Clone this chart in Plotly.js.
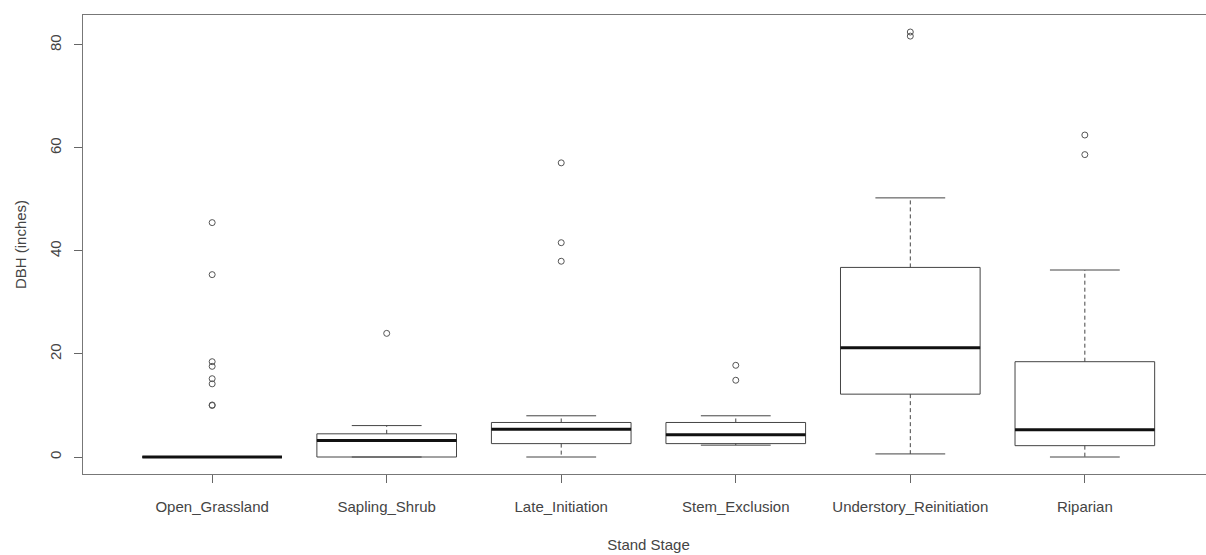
<!DOCTYPE html>
<html>
<head>
<meta charset="utf-8">
<script src="https://cdn.plot.ly/plotly-3.0.1.min.js"></script>
<style>
html, body { margin: 0; padding: 0; overflow: hidden; background: #ffffff; }
#chart { width: 1230px; height: 555px; }
</style>
</head>
<body>
<div id="chart"></div>
<script>
// ---- data ----
const categories = ["Open_Grassland", "Sapling_Shrub", "Late_Initiation", "Stem_Exclusion", "Understory_Reinitiation", "Riparian"];
const lowerWhisker = [0, 0, 0, 2.3, 0.6, 0];
const q1 = [0, 0, 2.6, 2.6, 12.2, 2.2];
const median = [0, 3.2, 5.4, 4.3, 21.2, 5.3];
const q3 = [0, 4.5, 6.7, 6.7, 36.8, 18.5];
const upperWhisker = [0, 6.1, 8.0, 8.0, 50.3, 36.3];
const outliersOpenGrassland = [45.5, 35.4, 18.5, 17.6, 15.2, 14.2, 10.1, 10.0];
const outliersSaplingShrub = [24.0];
const outliersLateInitiation = [57.1, 41.6, 38.0];
const outliersStemExclusion = [17.8, 14.9];
const outliersUnderstory = [82.5, 81.7];
const outliersRiparian = [62.5, 58.7];
const yTicks = [0, 20, 40, 60, 80];

// ---- build traces ----
const outlierGroups = [outliersOpenGrassland, outliersSaplingShrub, outliersLateInitiation,
                       outliersStemExclusion, outliersUnderstory, outliersRiparian];
const pos = categories.map((c, i) => i + 1);
const boxWidth = 0.8;
const capHalf = boxWidth / 4;
const medHalf = boxWidth / 2;

const boxTrace = {
  type: 'box',
  x: pos,
  q1: q1,
  median: median,
  q3: q3,
  lowerfence: q1,
  upperfence: q3,
  width: boxWidth,
  whiskerwidth: 0,
  boxpoints: false,
  fillcolor: '#ffffff',
  line: { color: '#444444', width: 1 },
  hoverinfo: 'skip'
};

const wx = [], wy = [];
pos.forEach((p, i) => {
  wx.push(p, p, null, p, p, null);
  wy.push(q3[i], upperWhisker[i], null, q1[i], lowerWhisker[i], null);
});
const whiskerTrace = {
  type: 'scatter', mode: 'lines', x: wx, y: wy,
  line: { color: '#444444', width: 1, dash: '4px,3px' }, hoverinfo: 'skip'
};

const cx = [], cy = [];
pos.forEach((p, i) => {
  cx.push(p - capHalf, p + capHalf, null, p - capHalf, p + capHalf, null);
  cy.push(upperWhisker[i], upperWhisker[i], null, lowerWhisker[i], lowerWhisker[i], null);
});
const capTrace = {
  type: 'scatter', mode: 'lines', x: cx, y: cy,
  line: { color: '#444444', width: 1 }, hoverinfo: 'skip'
};

const mx = [], my = [];
pos.forEach((p, i) => {
  mx.push(p - medHalf, p + medHalf, null);
  my.push(median[i], median[i], null);
});
const medianTrace = {
  type: 'scatter', mode: 'lines', x: mx, y: my,
  line: { color: '#111111', width: 3 }, hoverinfo: 'skip'
};

const ox = [], oy = [];
outlierGroups.forEach((g, i) => g.forEach(v => { ox.push(pos[i]); oy.push(v); }));
const outlierTrace = {
  type: 'scatter', mode: 'markers', x: ox, y: oy,
  marker: { symbol: 'circle-open', size: 6, color: '#555555', line: { width: 1, color: '#555555' } },
  hoverinfo: 'skip'
};

const fontFam = 'Liberation Sans, Arial, sans-serif';
const layout = {
  width: 1230,
  height: 555,
  margin: { l: 83, r: 16, t: 15, b: 81 },
  paper_bgcolor: '#ffffff',
  plot_bgcolor: '#ffffff',
  showlegend: false,
  font: { family: fontFam, size: 15, color: '#444444' },
  xaxis: {
    range: [0.26, 6.74],
    tickmode: 'array',
    tickvals: pos,
    ticktext: categories,
    ticks: 'outside', ticklen: 8, tickwidth: 1, tickcolor: '#666666',
    ticklabelstandoff: 11,
    showline: true, mirror: true, linecolor: '#777777', linewidth: 1,
    showgrid: false, zeroline: false,
    tickfont: { family: fontFam, size: 15, color: '#444444' },
    title: { text: 'Stand Stage', font: { family: fontFam, size: 15, color: '#444444' }, standoff: 25 }
  },
  yaxis: {
    range: [-3.3, 85.8],
    tickmode: 'array',
    tickvals: yTicks,
    ticktext: yTicks.map(String),
    tickangle: -90,
    ticks: 'outside', ticklen: 8, tickwidth: 1, tickcolor: '#666666',
    ticklabelstandoff: 7,
    showline: true, mirror: true, linecolor: '#777777', linewidth: 1,
    showgrid: false, zeroline: false,
    tickfont: { family: fontFam, size: 15, color: '#444444' },
    title: { text: 'DBH (inches)', font: { family: fontFam, size: 15, color: '#444444' }, standoff: 16 }
  }
};

Plotly.newPlot('chart', [boxTrace, whiskerTrace, capTrace, medianTrace, outlierTrace], layout,
  { displayModeBar: false, staticPlot: true });
</script>
</body>
</html>
